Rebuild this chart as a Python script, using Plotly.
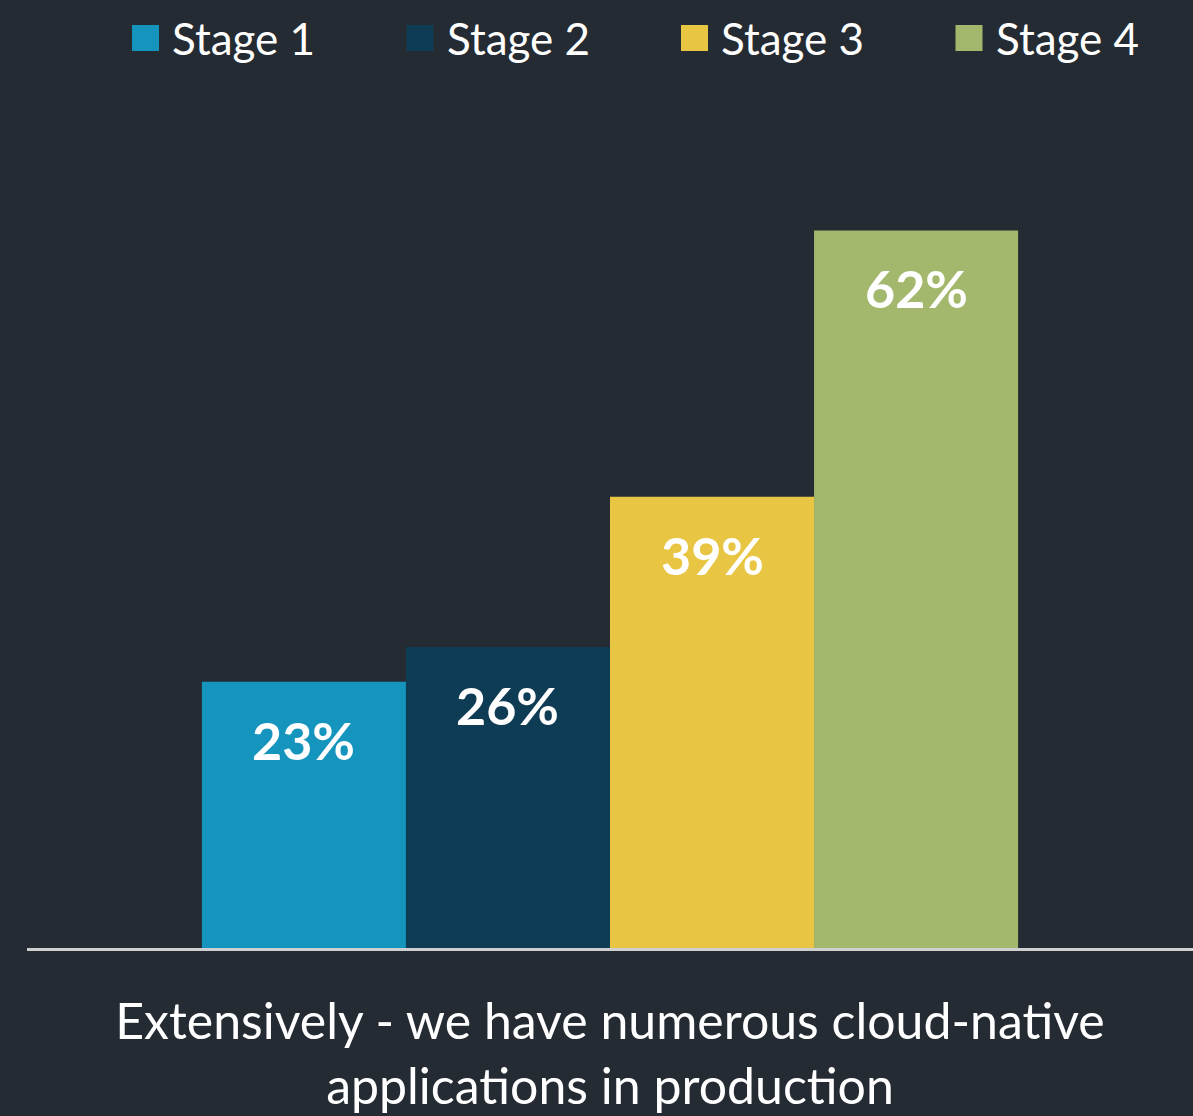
import plotly.graph_objects as go

# data
category = "Extensively - we have numerous cloud-native<br>applications in production"
stages = ["Stage 1", "Stage 2", "Stage 3", "Stage 4"]
values = [23, 26, 39, 62]
colors = ["#1594bd", "#0e3c55", "#e8c644", "#a3b86c"]

BG = "#252b33"
FONT = "Lato, Noto Sans, sans-serif"
W, H = 1193, 1116
M_L, M_R, M_T, M_B = 27, 0, 80, 168
BARGAP = 0.3

fig = go.Figure()
for name, val, col in zip(stages, values, colors):
    fig.add_trace(go.Bar(
        x=[category], y=[val], name=name,
        marker=dict(color=col, line=dict(width=0)),
        showlegend=False,
    ))

# value labels inside bars, near the top
n = len(stages)
bw = (1 - BARGAP) / n
for i, val in enumerate(values):
    fig.add_annotation(
        x=-(1 - BARGAP) / 2 + (i + 0.5) * bw, y=val, xref="x", yref="y",
        text=f"<b>{val}%</b>", showarrow=False,
        yanchor="middle", yshift=-58,
        font=dict(family=FONT, size=52, color="white"),
    )

# custom legend (big squares like the original)
pw, ph = W - M_L - M_R, H - M_T - M_B
def px_x(p):
    return (p - M_L) / pw
def px_y(p):
    return (H - M_B - p) / ph

for i, (name, col) in enumerate(zip(stages, colors)):
    x0 = 132 + i * 274.5
    fig.add_shape(type="rect", xref="paper", yref="paper",
                  x0=px_x(x0), x1=px_x(x0 + 27), y0=px_y(51), y1=px_y(25),
                  fillcolor=col, line=dict(width=0))
    fig.add_annotation(x=px_x(x0 + 38), y=px_y(38), xref="paper", yref="paper",
                       xanchor="left", yanchor="middle", showarrow=False,
                       text=name, font=dict(family=FONT, size=44, color="white"))

fig.update_layout(
    width=W, height=H,
    paper_bgcolor=BG, plot_bgcolor=BG,
    barmode="group", bargap=BARGAP, bargroupgap=0,
    margin=dict(l=M_L, r=M_R, t=M_T, b=M_B),
    font=dict(family=FONT, color="white"),
    xaxis=dict(
        showline=True, linecolor="#cfcfcf", linewidth=3,
        showgrid=False, zeroline=False, ticks="",
        tickfont=dict(family=FONT, size=50, color="white"),
        ticklabelstandoff=28,
    ),
    yaxis=dict(range=[0, 75], visible=False, showgrid=False, zeroline=False),
)

fig.write_html(
    "out.html",
    config={"displayModeBar": False},
    post_script="document.body.style.margin='0';document.body.style.background='%s';" % BG,
)
